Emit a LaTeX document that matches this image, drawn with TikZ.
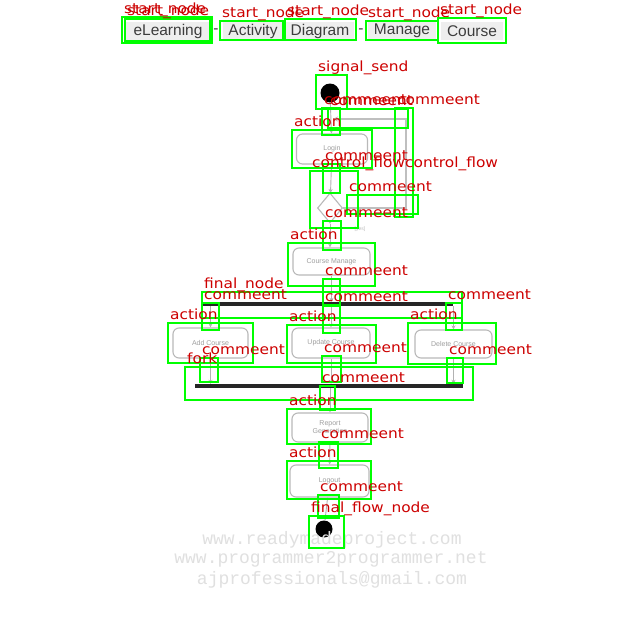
\documentclass[tikz,border=0pt]{standalone}
\usepackage{fontspec}
\setmainfont{Liberation Sans}
\newfontfamily\tagfont[FakeStretch=1.1]{DejaVu Sans}
\newfontfamily\wmfont{Liberation Mono}
\usetikzlibrary{shapes.geometric,arrows.meta}

\definecolor{boxgreen}{RGB}{0,255,0}
\definecolor{tagred}{RGB}{205,0,0}
\definecolor{ink}{RGB}{60,60,60}

\tikzset{
  act/.style={draw=gray!55, line width=1.1pt, rounded corners=6pt, fill=white,
    text=gray!75, font=\fontsize{7}{8}\selectfont, align=center, inner sep=0pt},
  flow/.style={draw=gray!60, line width=0.9pt, -{Stealth[length=4pt,width=4pt]}},
  loopline/.style={draw=gray!50, line width=1.6pt, -{Stealth[length=5pt,width=5pt]}},
  syncbar/.style={fill=black!85, inner sep=0pt},
  dot/.style={circle, fill=black, inner sep=0pt},
  word/.style={fill=gray!13, text=ink, font=\fontsize{15.5}{16}\selectfont,
    inner sep=1.5pt, minimum height=18pt},
  wm/.style={text=gray!24, font=\wmfont\fontsize{18}{18}\selectfont, inner sep=0pt},
  gframe/.style={draw=boxgreen, line width=2pt},
  tag/.style={text=tagred, font=\tagfont\fontsize{14}{14}\selectfont,
    anchor=base west, inner sep=0pt},
}

% green frame with its red tag just above the top-left corner
\newcommand\annot[5]{%
  \draw[gframe] (#1,#2) rectangle (#3,#4);
  \node[tag] at ({#1+2},{#2-4}) {#5};
}

\begin{document}
\begin{tikzpicture}[x=1pt,y=-1pt]
\useasboundingbox (0,0) rectangle (640,640);
\fill[white] (0,0) rectangle (640,640);

% ---- title ----
\node[word, minimum width=84pt] (t1) at (168,31) {eLearning};
\node[text=ink, font=\fontsize{15.5}{16}\selectfont] (d1) at (216,31) {-};
\node[word, minimum width=60pt] (t2) at (253,31) {Activity};
\node[word, minimum width=68pt] (t3) at (320,31) {Diagram};
\node[text=ink, font=\fontsize{15.5}{16}\selectfont] (d2) at (361,31) {-};
\node[word, minimum width=68pt] (t4) at (402,31) {Manage};
\node[word, minimum width=62pt] (t5) at (472,31) {Course};

% ---- activity diagram ----
\node[dot, minimum size=19pt] (start) at (330,93) {};
\node[act, minimum width=71pt, minimum height=30pt] (login) at (332,149) {Login};
\node[diamond, draw=gray!55, line width=1.1pt, fill=white, inner sep=0pt,
      minimum width=25pt, minimum height=30pt] (dec) at (330,208) {};
\node[text=gray!55, font=\fontsize{5}{5}\selectfont] (guard) at (360,229) {[yes]};
\node[act, minimum width=77pt, minimum height=27pt] (manage) at (331.5,261.5) {Course Manage};
\node[syncbar, minimum width=250pt, minimum height=4pt] (fork) at (328,304) {};
\node[act, minimum width=75pt, minimum height=30pt] (add) at (210.5,343) {Add Course};
\node[act, minimum width=78pt, minimum height=30pt] (update) at (331,343) {Update Course};
\node[act, minimum width=77pt, minimum height=28pt] (delete) at (453.5,344) {Delete Course};
\node[syncbar, minimum width=268pt, minimum height=4pt] (join) at (329,386) {};
\node[act, minimum width=76pt, minimum height=29pt] (report) at (330,427.5) {Report\\Generation};
\node[act, minimum width=79pt, minimum height=32pt] (logout) at (329.5,481) {Logout};
\node[dot, minimum size=17pt] (final) at (324,529) {};

\coordinate (merge) at (333,119);

\draw[flow] (start) -- (login);
\draw[flow] (login) -- (dec);
\draw[flow] (dec) -- (dec |- manage.north);
\draw[flow] (manage.south) -- (manage.south |- fork.north);
\draw[flow] (fork.south -| add) -- (add);
\draw[flow] (fork.south -| update) -- (update);
\draw[flow] (fork.south -| delete) -- (delete);
\draw[flow] (add) -- (add |- join.north);
\draw[flow] (update) -- (update |- join.north);
\draw[flow] (delete) -- (delete |- join.north);
\draw[flow] (join.south -| report) -- (report);
\draw[flow] (report) -- (logout);
\draw[flow] (logout) -- (final);
\draw[loopline] (dec.east) -- ++(63,0) |- (merge);

% ---- watermark ----
\node[wm] (wm1) at (332,540) {www.readymadeproject.com};
\node[wm] (wm2) at (331,559) {www.programmer2programmer.net};
\node[wm] (wm3) at (332,580) {ajprofessionals@gmail.com};

% ---- green frames and red tags ----
\annot{122}{17}{212}{43}{start\_node}
\annot{125}{19}{210}{41}{start\_node}
\annot{220}{21}{283}{40}{start\_node}
\annot{285}{19}{356}{40}{start\_node}
\annot{366}{21}{438}{40}{start\_node}
\annot{438}{18}{506}{43}{start\_node}

\annot{316}{75}{347}{109}{signal\_send}
\annot{322}{108}{340}{135}{commeent}
\annot{328}{109}{408}{128}{commeent}
\annot{395}{108}{413}{217}{commeent}
\annot{292}{130}{372}{168}{action}
\annot{323}{164}{340}{193}{commeent}
\annot{310}{171}{358}{228}{control\_flow}
\node[tag] (cf2) at (405,167) {control\_flow};
\annot{347}{195}{418}{214}{commeent}
\annot{323}{221}{341}{250}{commeent}
\annot{288}{243}{375}{286}{action}
\annot{323}{279}{340}{306}{commeent}
\annot{202}{292}{462}{318}{final\_node}
\annot{202}{303}{219}{330}{commeent}
\annot{323}{305}{340}{333}{commeent}
\annot{446}{303}{462}{330}{commeent}
\annot{168}{323}{253}{363}{action}
\annot{287}{325}{376}{363}{action}
\annot{408}{323}{496}{364}{action}
\annot{200}{358}{218}{382}{commeent}
\annot{185}{367}{473}{400}{fork}
\annot{322}{356}{341}{382}{commeent}
\annot{447}{358}{463}{383}{commeent}
\annot{320}{386}{335}{410}{commeent}
\annot{287}{409}{371}{444}{action}
\annot{319}{442}{338}{468}{commeent}
\annot{287}{461}{371}{499}{action}
\annot{318}{495}{339}{518}{commeent}
\annot{309}{516}{344}{548}{final\_flow\_node}

\end{tikzpicture}
\end{document}
